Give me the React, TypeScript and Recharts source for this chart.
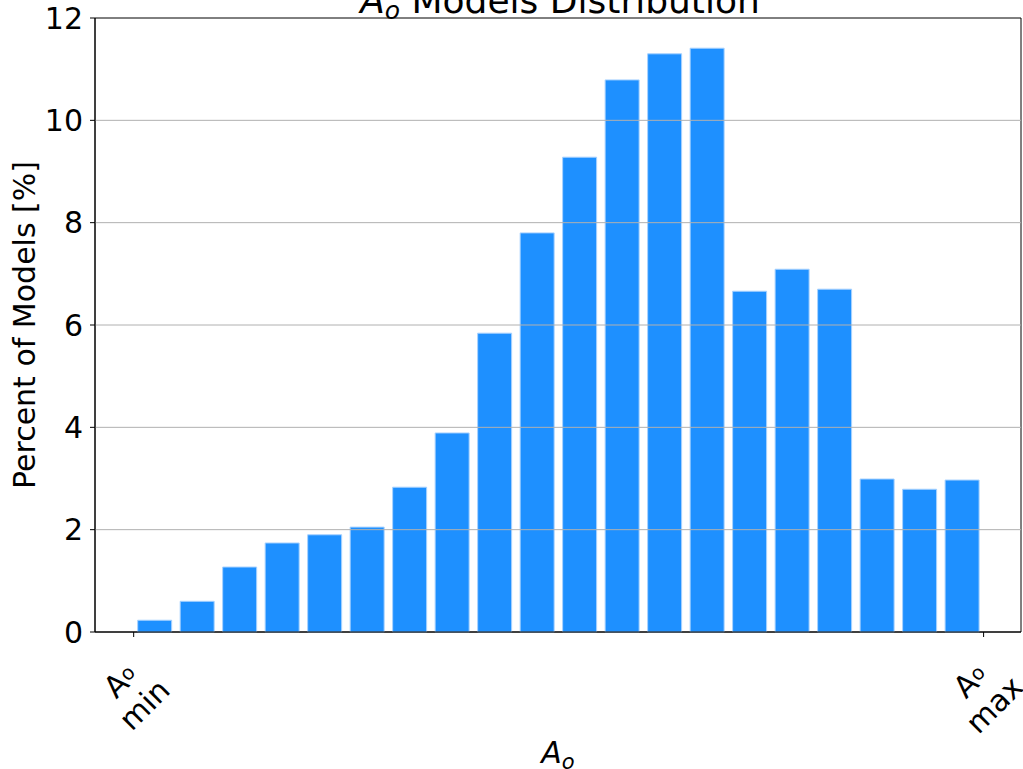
import React from "react";
import { BarChart, Bar, XAxis, YAxis, ReferenceLine, ReferenceArea } from "recharts";

// bin centres between A_o min (0) and A_o max (20)
const binCenters = [0.5, 1.5, 2.5, 3.5, 4.5, 5.5, 6.5, 7.5, 8.5, 9.5, 10.5, 11.5, 12.5, 13.5, 14.5, 15.5, 16.5, 17.5, 18.5, 19.5];
const percentOfModels = [0.23, 0.6, 1.27, 1.74, 1.9, 2.05, 2.83, 3.89, 5.84, 7.8, 9.28, 10.79, 11.3, 11.41, 6.66, 7.09, 6.7, 2.99, 2.79, 2.97];
const yTicks = [0, 2, 4, 6, 8, 10, 12];
const gridLines = [2, 4, 6, 8, 10];
const xTicks = [0, 20];
const xTickLabels = ["min", "max"];

const data = binCenters.map((x, i) => ({ x, pct: percentOfModels[i] }));

const FONT = "DejaVu Sans";

function AoTick({ x, y, payload }: any) {
  const idx = xTicks.indexOf(payload.value);
  return (
    <g transform={`translate(${x - 1},${y + 54}) rotate(-45)`}>
      <text textAnchor="middle" fontFamily={FONT} fontSize={30} fill="#000" y={-7}>
        A<tspan fontSize={20} dy={-4}>o</tspan>
      </text>
      <text textAnchor="middle" fontFamily={FONT} fontSize={30} fill="#000" y={27}>
        {xTickLabels[idx]}
      </text>
    </g>
  );
}

export default function App() {
  return (
    <div style={{ position: "absolute", left: 0, top: 0, width: 1023, height: 769, background: "#fff" }}>
      <BarChart width={1023} height={769} data={data} margin={{ top: 18, right: 2, left: 0, bottom: 0 }}>
        <XAxis
          dataKey="x"
          type="number"
          domain={[-0.91, 20.88]}
          ticks={xTicks}
          allowDataOverflow
          height={137}
          tickSize={5}
          axisLine={{ stroke: "#000" }}
          tickLine={{ stroke: "#000" }}
          tick={<AoTick />}
          interval={0}
        />
        <YAxis
          domain={[0, 12]}
          ticks={yTicks}
          width={95}
          tickSize={5}
          tickMargin={7}
          axisLine={{ stroke: "#000" }}
          tickLine={{ stroke: "#000" }}
          tick={{ fontSize: 30, fill: "#000", fontFamily: FONT }}
        />
        <ReferenceArea x1={-0.91} x2={20.88} y1={0} y2={12} fill="none" fillOpacity={0} stroke="#000" strokeWidth={1} ifOverflow="extendDomain" />
        <Bar dataKey="pct" fill="#1E90FF" stroke="#a8d2ff" strokeWidth={1} barSize={34} isAnimationActive={false} />
        {gridLines.map((g) => (
          <ReferenceLine key={g} y={g} stroke="#b0b0b0" strokeWidth={1} />
        ))}
      </BarChart>
      <svg width={1023} height={769} style={{ position: "absolute", left: 0, top: 0, pointerEvents: "none" }}>
        <text x={560} y={13} textAnchor="middle" fontFamily={FONT} fontSize={36} fill="#000">
          <tspan fontStyle="italic">A</tspan>
          <tspan fontStyle="italic" fontSize={25} dy={6}>o</tspan>
          <tspan dy={-6}> Models Distribution</tspan>
        </text>
        <text transform="translate(35,325) rotate(-90)" textAnchor="middle" fontFamily={FONT} fontSize={30} fill="#000">
          Percent of Models [%]
        </text>
        <text x={558} y={763} textAnchor="middle" fontFamily={FONT} fontSize={30} fill="#000">
          <tspan fontStyle="italic">A</tspan>
          <tspan fontStyle="italic" fontSize={21} dy={6}>o</tspan>
        </text>
      </svg>
    </div>
  );
}
